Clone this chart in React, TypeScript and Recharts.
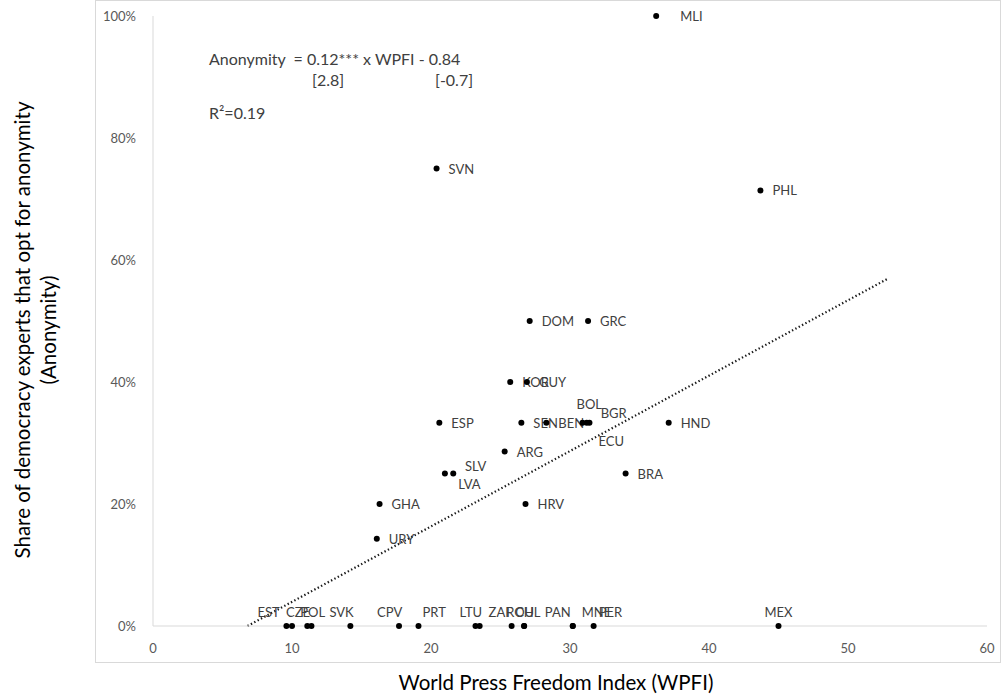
import React from 'react';
import { ScatterChart, Scatter, XAxis, YAxis, ReferenceLine } from 'recharts';

// Country codes, World Press Freedom Index score, share of experts choosing anonymity
const countries = [
  'MLI', 'SVN', 'PHL', 'DOM', 'GRC', 'KOR', 'GUY', 'ESP', 'SEN', 'BEN', 'BOL', 'BGR', 'ECU', 'HND',
  'ARG', 'SLV', 'LVA', 'BRA', 'GHA', 'HRV', 'URY',
  'EST', 'CZE', 'POL', '', 'SVK', 'CPV', 'PRT', 'LTU', '', 'ZAF', 'ROU', 'CHL', 'PAN', 'MNE', 'PER', 'MEX',
];
const wpfi = [
  36.2, 20.4, 43.7, 27.1, 31.3, 25.7, 26.9, 20.6, 26.5, 28.3, 30.9, 31.2, 31.4, 37.1,
  25.3, 21.0, 21.6, 34.0, 16.3, 26.8, 16.1,
  9.6, 10.0, 11.1, 11.4, 14.2, 17.7, 19.1, 23.2, 23.5, 25.8, 26.7, 26.7, 30.2, 30.2, 31.7, 45.0,
];
const anonymity = [
  1.0, 0.75, 0.714, 0.5, 0.5, 0.4, 0.4, 0.333, 0.333, 0.333, 0.333, 0.333, 0.333, 0.333,
  0.286, 0.25, 0.25, 0.25, 0.2, 0.2, 0.143,
  0, 0, 0, 0, 0, 0, 0, 0, 0, 0, 0, 0, 0, 0, 0, 0,
];

const xTicks = [0, 10, 20, 30, 40, 50, 60];
const yTicks = [0, 0.2, 0.4, 0.6, 0.8, 1.0];

// Linear fit drawn as a dotted trend line
const trendSlope = 0.01236;
const trendIntercept = -0.084;
const trendRange = [6.8, 52.9];

const points = countries.map((c, i) => ({ code: c, x: wpfi[i], y: anonymity[i] }));

// Label placement relative to each dot (text start x, vertical shift)
const labelShift: Record<string, [number, number]> = {
  MLI: [24, 0],
  BOL: [-6, -19],
  BGR: [14, -10],
  ECU: [9, 18],
  SLV: [20, -8],
  LVA: [5, 10],
  EST: [-29, -14],
  CZE: [-6, -14],
  POL: [-7, -14],
  SVK: [-21, -14],
  CPV: [-22, -14],
  PRT: [4, -14],
  LTU: [-16, -14],
  ZAF: [-23, -14],
  ROU: [-18, -14],
  CHL: [-9, -14],
  PAN: [-28, -14],
  MNE: [9, -14],
  PER: [5, -14],
  MEX: [-14, -14],
};

const FONT = 'Lato, "Open Sans", sans-serif';

const Dot = (props: any) => {
  const { cx, cy, payload } = props;
  const code: string = payload.code;
  const [dx, dy] = labelShift[code] || [12, 0];
  return (
    <g>
      <circle cx={cx} cy={cy} r={3} fill="#000" />
      {code && (
        <text
          x={cx + dx}
          y={cy + dy}
          dominantBaseline="central"
          fontSize={13}
          fontFamily={FONT}
          fill="#404040"
        >
          {code}
        </text>
      )}
    </g>
  );
};

export default function App() {
  const textStyle: React.CSSProperties = {
    position: 'absolute',
    fontFamily: FONT,
    color: '#404040',
    whiteSpace: 'nowrap',
    lineHeight: 1,
  };
  return (
    <div style={{ position: 'absolute', left: 0, top: 0, width: 1008, height: 698, background: '#fff', overflow: 'hidden' }}>
      <div
        style={{
          position: 'absolute',
          left: 95,
          top: 0,
          width: 906,
          height: 663,
          border: '1px solid #d9d9d9',
          boxSizing: 'border-box',
        }}
      />
      <div style={{ position: 'absolute', left: 0, top: 0 }}>
        <ScatterChart width={1008} height={698} margin={{ top: 16, right: 21, bottom: 42, left: 93 }}>
          <XAxis
            type="number"
            dataKey="x"
            domain={[0, 60]}
            ticks={xTicks}
            axisLine={{ stroke: '#d9d9d9' }}
            tickLine={false}
            tick={{ fill: '#595959', fontSize: 13, fontFamily: FONT }}
            tickMargin={12}
            height={30}
          />
          <YAxis
            type="number"
            dataKey="y"
            domain={[0, 1]}
            ticks={yTicks}
            tickFormatter={(v: number) => `${Math.round(v * 100)}%`}
            axisLine={{ stroke: '#d9d9d9' }}
            tickLine={false}
            tick={{ fill: '#595959', fontSize: 13, fontFamily: FONT }}
            tickMargin={11}
            width={60}
          />
          <ReferenceLine
            segment={[
              { x: trendRange[0], y: trendSlope * trendRange[0] + trendIntercept },
              { x: trendRange[1], y: trendSlope * trendRange[1] + trendIntercept },
            ]}
            stroke="#1a1a1a"
            strokeWidth={2.2}
            strokeDasharray="1.4 2.4"
          />
          <Scatter data={points} shape={Dot} isAnimationActive={false} />
        </ScatterChart>
      </div>
      <div style={{ ...textStyle, left: 209, top: 51, fontSize: 16 }}>
        Anonymity &nbsp;= 0.12*** x WPFI - 0.84
      </div>
      <div style={{ ...textStyle, left: 312, top: 72, fontSize: 16 }}>[2.8]</div>
      <div style={{ ...textStyle, left: 435, top: 72, fontSize: 16 }}>[-0.7]</div>
      <div style={{ ...textStyle, left: 209, top: 105, fontSize: 16 }}>
        R²=0.19
      </div>
      <div
        style={{
          position: 'absolute',
          left: 35,
          top: 330,
          transform: 'translate(-50%, -50%) rotate(-90deg)',
          fontFamily: FONT,
          fontSize: 20.5,
          color: '#000',
          textAlign: 'center',
          whiteSpace: 'nowrap',
          lineHeight: '26px',
        }}
      >
        Share of democracy experts that opt for anonymity
        <br />
        (Anonymity)
      </div>
      <div
        style={{
          position: 'absolute',
          left: 556,
          top: 682,
          transform: 'translate(-50%, -50%)',
          fontFamily: FONT,
          fontSize: 20.5,
          color: '#000',
          whiteSpace: 'nowrap',
        }}
      >
        World Press Freedom Index (WPFI)
      </div>
    </div>
  );
}
